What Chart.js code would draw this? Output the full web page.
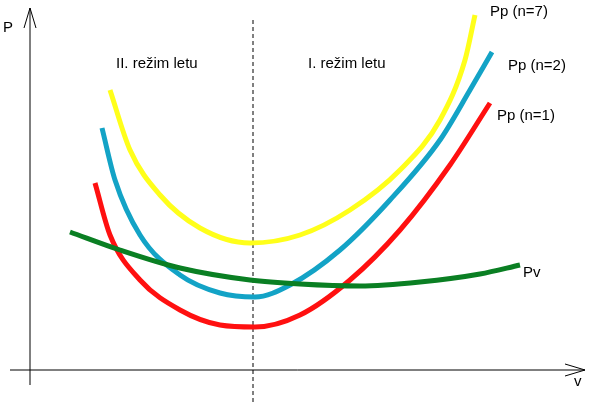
<!DOCTYPE html>
<html><head><meta charset="utf-8">
<script src="https://cdn.jsdelivr.net/npm/chart.js@4"></script>
<style>html,body{margin:0;padding:0;background:#fff}#w{width:600px;height:405px}</style>
</head><body><div id="w"><canvas id="c"></canvas></div>
<script>
// Schematic curves (x = speed units, y = power units, screen-like, y grows downward)
const yellowX=[110,130,160,200,250,300,350,400,440,465,475];
const yellowY=[90,150,195,228,243,235,210,170,120,60,15];
const blueX=[102,115,140,180,220,255,290,340,390,440,470,492];
const blueY=[128,180,235,275,293,297,285,250,200,140,90,52];
const redX=[95,110,140,180,220,255,300,350,400,450,490];
const redY=[183,235,280,310,325,327,315,280,230,165,103];
const greenX=[70,120,180,250,300,360,420,480,520];
const greenY=[232,250,268,280,284,286,282,274,265];
const labels=[
 {t:"P",x:3,y:32},{t:"v",x:574,y:386},
 {t:"II. režim letu",x:116,y:68},{t:"I. režim letu",x:308,y:68},
 {t:"Pp (n=7)",x:490,y:16},{t:"Pp (n=2)",x:508,y:70},
 {t:"Pp (n=1)",x:497,y:120},{t:"Pv",x:523,y:277}
];
const pts=(xs,ys)=>xs.map((x,i)=>({x:x,y:ys[i]}));
const ds=(xs,ys,c)=>({data:pts(xs,ys),borderColor:c,borderWidth:5,pointRadius:0,tension:0.4,cubicInterpolationMode:'monotone',fill:false});
const deco={id:'deco',beforeDatasetsDraw(ch){
 const g=ch.ctx,sx=ch.scales.x,sy=ch.scales.y;
 const X=v=>sx.getPixelForValue(v),Y=v=>sy.getPixelForValue(v);
 g.save();g.strokeStyle='#000';g.lineWidth=1;
 g.beginPath();g.moveTo(X(30),Y(385));g.lineTo(X(30),Y(8));
 g.moveTo(X(10),Y(370));g.lineTo(X(585),Y(370));
 g.moveTo(X(24),Y(28));g.lineTo(X(30),Y(8));g.lineTo(X(36),Y(28));
 g.moveTo(X(565),Y(364));g.lineTo(X(585),Y(370));g.lineTo(X(565),Y(376));
 g.stroke();
 g.setLineDash([4,3]);g.beginPath();g.moveTo(X(253),Y(20));g.lineTo(X(253),Y(405));g.stroke();
 g.restore();
},afterDatasetsDraw(ch){
 const g=ch.ctx,sx=ch.scales.x,sy=ch.scales.y;
 g.save();g.fillStyle='#000';g.font='15px "Liberation Sans", Arial, sans-serif';g.textBaseline='alphabetic';
 labels.forEach(l=>g.fillText(l.t,sx.getPixelForValue(l.x),sy.getPixelForValue(l.y)));
 g.restore();
}};
new Chart(document.getElementById('c'),{type:'line',
 data:{datasets:[ds(greenX,greenY,'#0a7f23'),ds(yellowX,yellowY,'#ffff1a'),ds(blueX,blueY,'#13a3c6'),ds(redX,redY,'#ff1010')]},
 options:{responsive:true,maintainAspectRatio:false,animation:false,layout:{padding:0},
  plugins:{legend:{display:false},tooltip:{enabled:false}},
  scales:{x:{type:'linear',min:0,max:600,display:false},y:{type:'linear',min:0,max:405,reverse:true,display:false}}},
 plugins:[deco]});
</script></body></html>
